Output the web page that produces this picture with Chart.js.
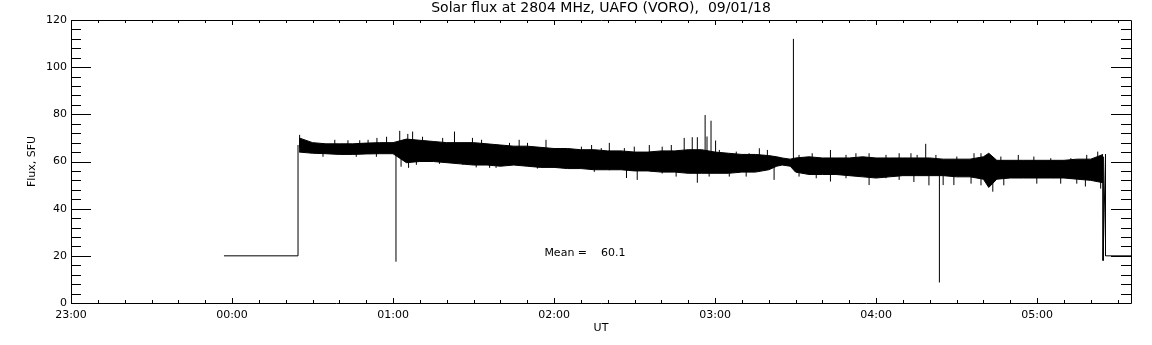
<!DOCTYPE html>
<html>
<head>
<meta charset="utf-8">
<script src="https://cdn.jsdelivr.net/npm/chart.js@4.4.0/dist/chart.umd.min.js"></script>
<style>
  html, body { margin: 0; padding: 0; background: #fff; }
  canvas { display: block; }
</style>
</head>
<body>
<canvas id="fluxChart" width="1152" height="345"></canvas>
<script>
// x values are minutes after 23:00 UT
const xTickValues = [0, 60, 120, 180, 240, 300, 360];
const xTickLabels = ['23:00', '00:00', '01:00', '02:00', '03:00', '04:00', '05:00'];
const yTickValues = [0, 20, 40, 60, 80, 100, 120];

// calibration level before the record starts, and the tail after it ends
const stepTimes = [57, 84.6, 84.6];
const stepValues = [20, 20, 67];
const tailTimes = [384.6, 384.6, 385.5, 385.5, 395];
const tailValues = [62, 18, 63, 20, 20];

// envelope of the noisy record (upper / lower edge of the black band)
const bandTimes = [85, 90, 95, 100, 105, 110, 115, 120, 125, 130, 135, 140, 145, 150, 155, 160, 165, 170, 175, 180,
  185, 190, 195, 200, 205, 210, 215, 220, 225, 230, 235, 240, 245, 250, 255, 260, 263, 265, 268, 270,
  275, 280, 285, 290, 295, 300, 305, 310, 315, 320, 325, 330, 335, 340, 342, 345, 350, 355, 360, 365,
  370, 375, 380, 384.6];
const bandUpper = [70, 68, 67.5, 67.5, 67.5, 67.8, 68, 68, 69.5, 69, 68.5, 68, 68, 68, 67.5, 67, 66.5, 66.5, 66, 65.5,
  65.5, 65, 65, 64.5, 64.5, 64, 64, 64.5, 64.5, 65, 65, 64, 63.5, 63, 63, 62.5, 62, 61.5, 61, 61.5,
  62, 61.5, 61.5, 61.5, 62, 61.5, 61.5, 61.5, 61.5, 61.5, 61, 61, 61, 62, 63.5, 60.5, 60.5, 60.5, 60.5, 60.5,
  60.5, 61, 61, 63];
const bandLower = [64, 63.5, 63.3, 63, 63, 63.2, 63.3, 63.3, 59.5, 60, 60, 59.5, 59, 58.5, 58.5, 58, 58.5, 58, 57.5, 57.5,
  57, 57, 56.5, 56.5, 56.5, 56, 56, 55.5, 55.5, 55, 55, 55, 55, 55.5, 55.5, 56.5, 58, 58.5, 58, 55.5,
  54.5, 54.5, 54.5, 54, 53.5, 53, 53.5, 54, 54, 54, 54, 53.5, 53.5, 52.5, 49, 52.5, 53, 53, 53, 53,
  53, 52.5, 52, 51];

// single spikes sticking out of the band: time, low end, high end
const spikeTimes = [85.2, 93.9, 98.3, 103.2, 106.3, 107.6, 110.7, 113.8, 114, 117.6,
  121.1, 122.5, 123, 125.5, 125.8, 127.3, 128.7, 131, 137.3, 138.5,
  142.9, 146, 149.6, 151, 153, 156, 158.4, 160.4, 160.4, 163.4,
  165.3, 167, 170.1, 173.4, 173.8, 177, 180.1, 183.1, 186.5, 190.2,
  194, 195, 197.6, 200.6, 200.6, 206.2, 207, 209.9, 211, 215.5,
  216.2, 220.3, 220.3, 223.7, 225.5, 228.5, 231.5, 233.4, 236.3, 237,
  237.8, 238.5, 240.2, 241.6, 245.3, 247.9, 251.6, 252.7, 256.5, 259.5,
  262, 269.2, 271.3, 271.3, 276.2, 277.7, 283, 288.8, 288.8, 292.5,
  297.4, 303.7, 303.7, 308.6, 308.6, 313, 314.1, 315.3, 318.5, 319.7,
  322.3, 323.6, 325, 329, 330.1, 335.4, 336.5, 339.1, 339.1, 343.5,
  346.5, 347.6, 353, 358.8, 359.9, 365.1, 368.8, 372.6, 374.8, 378,
  378.5, 382.6, 383.7];
const spikeLow = [66, 62, 66, 66, 62, 66, 66, 62, 66, 66,
  17.5, 64, 57.8, 64, 57.3, 64, 58.6, 64, 59, 64,
  63, 58.6, 63, 57.5, 63, 57.3, 57.3, 62, 58.2, 62,
  58.9, 62, 62, 62, 57, 61, 57.7, 62, 57, 62,
  60, 55.6, 62, 60, 56.3, 62, 53, 62, 52.2, 60,
  55.6, 62, 54.9, 62, 53.6, 60, 60, 51, 58, 60,
  53.6, 58, 60, 61, 53.6, 61, 53.6, 60, 59, 59,
  52.2, 59, 59, 53.6, 59, 52.9, 51.5, 59, 52.9, 59,
  50, 59, 52.9, 59, 52.2, 59, 51.3, 59, 57, 49.9,
  59, 8.7, 50, 50, 59, 50.6, 57, 59, 49.9, 47.2,
  58, 49.9, 56, 58, 50.6, 58, 50.6, 58, 50.6, 49.4,
  56, 56, 48.5];
const spikeHigh = [71.3, 64.5, 69.2, 69, 64.5, 69, 69.2, 64.5, 70, 70.5,
  66, 73, 63, 71.7, 63, 72.7, 62, 70.5, 62, 70,
  72.7, 62, 70, 61, 69.2, 62, 60, 67, 60, 67.9,
  60, 69.2, 67.9, 65.7, 59.5, 69.2, 59.5, 65.7, 59, 66.3,
  67, 58.5, 65.7, 67.9, 58.5, 65.7, 60, 66.3, 60, 67,
  58, 66.3, 57.5, 67, 60, 70, 70.3, 70.3, 79.7, 70.6,
  57, 77.3, 68.9, 64.9, 57, 64.2, 57, 63.5, 65.6, 64.9,
  59, 112, 62.8, 56, 63.5, 56, 64.9, 62.8, 56, 63.5,
  63.5, 62.8, 55, 63.5, 55, 63.5, 55, 62.8, 67.5, 55,
  62.8, 58, 57, 57, 62.1, 55, 63.5, 63.5, 55, 58,
  62.1, 55, 62.8, 62.1, 55, 61.4, 55, 61.4, 55, 56,
  62.8, 64.2, 54];

const meanText = 'Mean =    60.1';
const fontFamily = '"DejaVu Sans", sans-serif';

const toPoints = (xs, ys) => xs.map((t, i) => ({ x: t, y: ys[i] }));
const spikePoints = [];
spikeTimes.forEach((t, i) => {
  spikePoints.push({ x: t, y: spikeLow[i] }, { x: t, y: spikeHigh[i] }, { x: t, y: null });
});

// IDL style frame: box on all four sides, ticks pointing inwards
const frameTicks = {
  id: 'frameTicks',
  afterDatasetsDraw(chart) {
    const { ctx, chartArea: a, scales: { x, y } } = chart;
    ctx.save();
    ctx.strokeStyle = '#000';
    ctx.lineWidth = 1;
    ctx.beginPath();
    ctx.rect(a.left + 0.5, a.top + 0.5, a.right - a.left, a.bottom - a.top);
    for (let m = x.min; m <= x.max; m += 10) {
      const px = Math.round(x.getPixelForValue(m)) + 0.5;
      const len = m % 60 === 0 ? 5 : 3;
      ctx.moveTo(px, a.bottom); ctx.lineTo(px, a.bottom - len);
      ctx.moveTo(px, a.top); ctx.lineTo(px, a.top + len);
    }
    for (let v = y.min; v <= y.max; v += 4) {
      const py = Math.round(y.getPixelForValue(v)) + 0.5;
      const len = v % 20 === 0 ? 20 : 10;
      ctx.moveTo(a.left, py); ctx.lineTo(a.left + len, py);
      ctx.moveTo(a.right, py); ctx.lineTo(a.right - len, py);
    }
    ctx.stroke();
    ctx.fillStyle = '#000';
    ctx.font = '11px ' + fontFamily;
    ctx.textBaseline = 'middle';
    ctx.fillText(meanText, x.getPixelForValue(176.4), y.getPixelForValue(21.3));
    ctx.restore();
  }
};

const lineStyle = { borderColor: '#000', borderWidth: 1, pointRadius: 0, tension: 0 };

new Chart(document.getElementById('fluxChart'), {
  type: 'line',
  data: {
    datasets: [
      { ...lineStyle, label: 'upper', data: toPoints(bandTimes, bandUpper), fill: '+1', backgroundColor: '#000' },
      { ...lineStyle, label: 'lower', data: toPoints(bandTimes, bandLower), fill: false },
      { ...lineStyle, label: 'spikes', data: spikePoints, fill: false, spanGaps: false },
      { ...lineStyle, label: 'step', data: toPoints(stepTimes, stepValues), fill: false },
      { ...lineStyle, label: 'tail', data: toPoints(tailTimes, tailValues), fill: false }
    ]
  },
  options: {
    responsive: false,
    animation: false,
    devicePixelRatio: 1,
    layout: { padding: { left: 0, right: 21, top: 0, bottom: 0 } },
    plugins: {
      legend: { display: false },
      tooltip: { enabled: false },
      title: {
        display: true,
        fullSize: false,
        text: 'Solar flux at 2804 MHz, UAFO (VORO),  09/01/18',
        color: '#000',
        font: { family: fontFamily, size: 14, weight: 'normal' },
        padding: { top: 0, bottom: 3.2 }
      }
    },
    scales: {
      x: {
        type: 'linear',
        min: 0,
        max: 395,
        afterFit: (s) => { s.height = 42; },
        afterBuildTicks: (s) => { s.ticks = xTickValues.map((v) => ({ value: v })); },
        ticks: {
          autoSkip: false,
          maxRotation: 0,
          padding: 6,
          color: '#000',
          font: { family: fontFamily, size: 11 },
          callback: (v, i) => xTickLabels[i]
        },
        grid: { display: false, drawTicks: false },
        border: { display: false },
        title: {
          display: true, text: 'UT', color: '#000',
          font: { family: fontFamily, size: 11 },
          padding: { top: 0, bottom: 10 }
        }
      },
      y: {
        min: 0,
        max: 120,
        afterFit: (s) => { s.width = 71; },
        afterBuildTicks: (s) => { s.ticks = yTickValues.map((v) => ({ value: v })); },
        ticks: {
          padding: 4,
          color: '#000',
          font: { family: fontFamily, size: 11 }
        },
        grid: { display: false, drawTicks: false },
        border: { display: false },
        title: {
          display: true, text: 'Flux, SFU', color: '#000',
          font: { family: fontFamily, size: 11 },
          padding: { top: 26, bottom: 0 }
        }
      }
    }
  },
  plugins: [frameTicks]
});
</script>
</body>
</html>
